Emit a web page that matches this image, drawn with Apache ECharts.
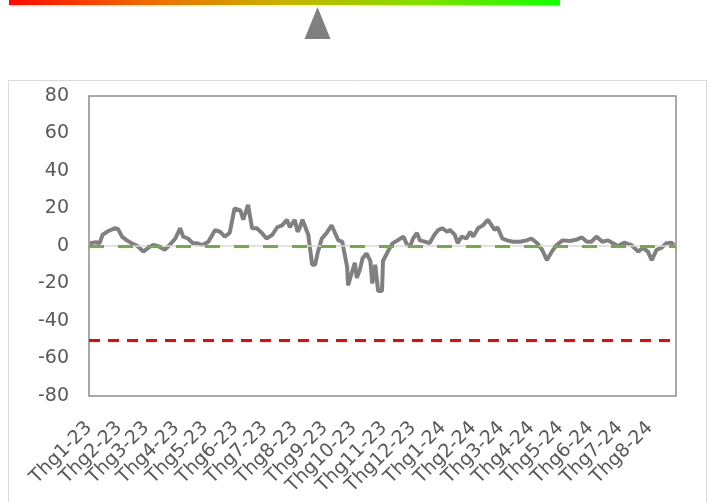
<!DOCTYPE html>
<html>
<head>
<meta charset="utf-8">
<script src="https://cdn.jsdelivr.net/npm/echarts@6/dist/echarts.min.js"></script>
<style>
html, body { margin: 0; padding: 0; background: #fff; }
#chart { width: 709px; height: 502px; }
</style>
</head>
<body>
<div id="chart"></div>
<script>
// axis range of the date axis
var firstDay = [2023, 0, 1];
var lastDay = [2024, 7, 28];

// readings taken off the line
var pointDates = [
    '2023-01-02', '2023-01-08', '2023-01-12', '2023-01-15', '2023-01-21', '2023-01-28', '2023-01-31',
    '2023-02-04', '2023-02-09', '2023-02-14', '2023-02-20', '2023-02-26',
    '2023-03-03', '2023-03-08', '2023-03-13', '2023-03-20', '2023-03-25', '2023-03-31',
    '2023-04-05', '2023-04-08', '2023-04-13', '2023-04-18', '2023-04-22', '2023-04-28',
    '2023-05-04', '2023-05-11', '2023-05-16', '2023-05-21', '2023-05-26', '2023-05-31',
    '2023-06-06', '2023-06-09', '2023-06-14', '2023-06-18', '2023-06-23', '2023-06-28',
    '2023-07-03', '2023-07-09', '2023-07-14', '2023-07-19', '2023-07-24', '2023-07-27',
    '2023-08-01', '2023-08-04', '2023-08-06', '2023-08-09', '2023-08-15', '2023-08-19', '2023-08-22', '2023-08-25', '2023-08-29',
    '2023-09-03', '2023-09-08', '2023-09-11', '2023-09-15', '2023-09-19', '2023-09-24', '2023-09-25', '2023-09-29',
    '2023-10-02', '2023-10-04', '2023-10-07', '2023-10-10', '2023-10-14', '2023-10-18', '2023-10-20', '2023-10-23', '2023-10-26', '2023-10-30', '2023-10-31',
    '2023-11-04', '2023-11-07', '2023-11-10', '2023-11-15', '2023-11-21', '2023-11-25', '2023-11-28',
    '2023-12-01', '2023-12-05', '2023-12-08', '2023-12-13', '2023-12-18', '2023-12-23', '2023-12-27', '2023-12-31',
    '2024-01-05', '2024-01-08', '2024-01-13', '2024-01-16', '2024-01-20', '2024-01-25', '2024-01-29',
    '2024-02-01', '2024-02-06', '2024-02-11', '2024-02-16', '2024-02-20', '2024-02-23', '2024-02-26',
    '2024-03-02', '2024-03-07', '2024-03-13', '2024-03-20', '2024-03-27',
    '2024-04-01', '2024-04-07', '2024-04-12', '2024-04-17', '2024-04-22', '2024-04-27',
    '2024-05-03', '2024-05-11', '2024-05-18', '2024-05-23', '2024-05-28',
    '2024-06-02', '2024-06-07', '2024-06-13', '2024-06-19', '2024-06-24', '2024-06-29',
    '2024-07-06', '2024-07-13', '2024-07-20', '2024-07-25', '2024-07-30',
    '2024-08-03', '2024-08-08', '2024-08-13', '2024-08-18', '2024-08-23', '2024-08-26'
];
var pointValues = [
    1.5, 2, 1.5, 6, 8, 9.5, 9,
    5, 3, 1.5, 0, -3,
    -1, 0.5, 0, -2, 0.5, 4,
    9.5, 5, 4, 1.5, 1.5, 0.5,
    2.3, 8.5, 7.6, 5, 7, 20,
    19, 14, 22, 9.5, 9.5, 7,
    4, 6, 10, 11, 14, 10,
    14, 7.6, 9.5, 14, 6, -10, -10, -3, 4,
    7, 11, 7.6, 3, 2.3, -11, -21, -14,
    -9, -17, -13, -6.5, -4, -8, -20, -10, -24, -24, -8,
    -4, -1, 1.5, 3, 5, 0.5, 0,
    4, 7, 3, 2.3, 1.5, 6, 8.5, 9.5,
    7.6, 8.5, 6, 1.5, 5, 4, 7.6,
    5, 9.5, 11, 14, 11, 8.5, 10,
    4, 3, 2.3, 2.3, 3,
    4, 1.5, -2, -7.5, -3, 0.5,
    3, 2.7, 3.5, 4.6, 2.3,
    2.3, 5, 2.3, 3, 1.5, 0,
    1.8, 0.5, -3, -1, -3,
    -7.5, -2, -1, 1.5, 1.8, 0.5
];

var zeroLevel = 0;
var limitLevel = -50;
var yMin = -80;
var yMax = 80;
var yStep = 20;

function pad(n) {
    return n < 10 ? '0' + n : '' + n;
}

// every calendar day on the axis
var days = [];
var t = Date.UTC(firstDay[0], firstDay[1], firstDay[2]);
var tEnd = Date.UTC(lastDay[0], lastDay[1], lastDay[2]);
while (t <= tEnd) {
    var d = new Date(t);
    days.push(d.getUTCFullYear() + '-' + pad(d.getUTCMonth() + 1) + '-' + pad(d.getUTCDate()));
    t += 86400000;
}

var lineData = pointDates.map(function(dt, i) {
    return [dt, pointValues[i]];
});

var chart = echarts.init(document.getElementById('chart'));

var font = '"DejaVu Sans", Verdana, sans-serif';

var option = {
    animation: false,
    backgroundColor: '#ffffff',
    graphic: [
        {
            type: 'rect',
            shape: { x: 8.5, y: 80.5, width: 698, height: 440 },
            style: { fill: 'none', stroke: '#d9d9d9', lineWidth: 1 },
            z: -1
        },
        {
            type: 'rect',
            shape: { x: 9, y: 0, width: 551, height: 5 },
            style: {
                fill: new echarts.graphic.LinearGradient(0, 0, 1, 0, [
                    { offset: 0, color: '#ff0a00' },
                    { offset: 0.25, color: '#f06a00' },
                    { offset: 0.5, color: '#c8b200' },
                    { offset: 0.75, color: '#84e000' },
                    { offset: 1, color: '#10ff00' }
                ])
            }
        },
        {
            type: 'polygon',
            shape: { points: [[317.5, 7], [304.5, 39], [330.5, 39]] },
            style: { fill: '#808080' }
        }
    ],
    grid: {
        left: 89,
        top: 96,
        right: 33,
        bottom: 106,
        show: true,
        borderColor: '#8c8c8c',
        borderWidth: 1.5,
        backgroundColor: 'transparent'
    },
    xAxis: {
        type: 'category',
        data: days,
        boundaryGap: false,
        axisLine: { show: false },
        axisTick: { show: false },
        splitLine: { show: false },
        axisLabel: {
            interval: function(index, value) {
                return value.slice(8) === '01';
            },
            formatter: function(value) {
                return 'Thg' + parseInt(value.slice(5, 7), 10) + '-' + value.slice(2, 4);
            },
            rotate: 45,
            margin: 29,
            color: '#595959',
            fontSize: 19,
            fontFamily: font
        }
    },
    yAxis: {
        type: 'value',
        min: yMin,
        max: yMax,
        interval: yStep,
        axisLine: { show: false },
        axisTick: { show: false },
        splitLine: { show: false },
        axisLabel: {
            color: '#595959',
            fontSize: 19,
            fontFamily: font,
            margin: 20
        }
    },
    series: [
        {
            type: 'line',
            name: 'zero',
            data: [],
            silent: true,
            markLine: {
                symbol: 'none',
                silent: true,
                label: { show: false },
                lineStyle: { color: '#d9d9d9', width: 1.5, type: 'solid' },
                data: [{ yAxis: zeroLevel }]
            },
            z: 1
        },
        {
            type: 'line',
            name: 'value',
            data: lineData,
            showSymbol: false,
            symbol: 'none',
            lineStyle: { color: '#808080', width: 4 },
            z: 3
        },
        {
            type: 'line',
            name: 'green',
            data: [],
            silent: true,
            markLine: {
                symbol: 'none',
                silent: true,
                label: { show: false },
                lineStyle: { color: '#70ad47', width: 3, type: [15, 14] },
                data: [{ yAxis: zeroLevel }]
            },
            z: 4
        },
        {
            type: 'line',
            name: 'red',
            data: [],
            silent: true,
            markLine: {
                symbol: 'none',
                silent: true,
                label: { show: false },
                lineStyle: { color: '#ff0000', width: 3, type: [11, 8] },
                data: [{ yAxis: limitLevel }]
            },
            z: 4
        }
    ]
};

chart.setOption(option);
</script>
</body>
</html>
